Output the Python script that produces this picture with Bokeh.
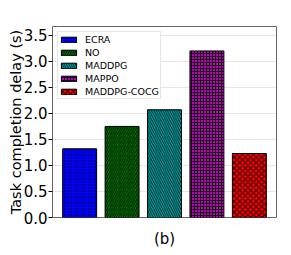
from bokeh.plotting import figure
from bokeh.models import ColumnDataSource, Legend, LegendItem, FixedTicker, Range1d
from bokeh.embed import file_html
from bokeh.resources import INLINE

methods = ["ECRA", "NO", "MADDPG", "MAPPO", "MADDPG-COCG"]
delays = [1.32, 1.75, 2.07, 3.20, 1.23]
colors = ["#0000ff", "#008000", "#00bfbf", "#bf00bf", "#ff0000"]
hatches = ["dot", "right_diagonal_line", "left_diagonal_line", "cross", "diagonal_cross"]
hatch_scales = [3.0, 4.5, 4.5, 3.0, 5.5]
y_ticks = [0.0, 0.5, 1.0, 1.5, 2.0, 2.5, 3.0, 3.5]

p = figure(output_backend="svg", toolbar_location=None,
           x_range=Range1d(-0.64, 4.64), y_range=Range1d(0, 3.67))
p.min_border_left = 52
p.min_border_right = 8
p.min_border_top = 26
p.min_border_bottom = 30
p.frame_width = 224
p.frame_height = 191

items = []
for i, (m, d, c, h, hs) in enumerate(zip(methods, delays, colors, hatches, hatch_scales)):
    src = ColumnDataSource(dict(x=[i], top=[d]))
    r = p.vbar(x="x", top="top", width=0.8, source=src, fill_color=c,
               line_color="black", line_width=1,
               hatch_pattern=h, hatch_color="black", hatch_alpha=0.9,
               hatch_scale=hs, hatch_weight=1.0)
    items.append(LegendItem(label=m, renderers=[r]))

legend = Legend(items=items, location="top_left", label_text_font="DejaVu Sans",
                label_text_font_size="9.5px", label_text_color="black",
                glyph_width=19, glyph_height=7,
                label_height=12, spacing=1, padding=1, margin=5, label_standoff=7,
                border_line_color="#cccccc", background_fill_alpha=0.9)
p.add_layout(legend)

p.outline_line_color = "#666666"
p.outline_line_width = 1

p.yaxis.ticker = FixedTicker(ticks=y_ticks)
p.yaxis.major_label_overrides = {t: f"{t:.1f}" for t in y_ticks}
p.yaxis.axis_label = "Task completion delay (s)"
p.yaxis.axis_label_text_font = "DejaVu Sans"
p.yaxis.axis_label_text_font_size = "14.5px"
p.yaxis.axis_label_text_font_style = "normal"
p.yaxis.axis_label_text_color = "black"
p.yaxis.axis_label_standoff = -3
p.yaxis.major_label_text_font = "DejaVu Sans"
p.yaxis.major_label_text_font_size = "15px"
p.yaxis.major_label_text_color = "black"
p.yaxis.major_label_standoff = 1
p.yaxis.axis_line_color = None
p.yaxis.major_tick_line_color = "black"
p.yaxis.major_tick_in = 0
p.yaxis.major_tick_out = 4
p.yaxis.minor_tick_line_color = None

p.xaxis.ticker = FixedTicker(ticks=[])
p.xaxis.axis_line_color = None
p.xaxis.major_tick_line_color = None
p.xaxis.minor_tick_line_color = None
p.xaxis.axis_label = "(b)"
p.xaxis.axis_label_text_font = "DejaVu Sans"
p.xaxis.axis_label_text_font_size = "15px"
p.xaxis.axis_label_text_font_style = "normal"
p.xaxis.axis_label_text_color = "black"
p.xaxis.axis_label_standoff = 12

p.xgrid.grid_line_color = None
p.ygrid.grid_line_color = "#cccccc"
p.ygrid.grid_line_dash = "1 1"
p.ygrid.grid_line_width = 1

open("out.html", "w").write(file_html(p, INLINE))
